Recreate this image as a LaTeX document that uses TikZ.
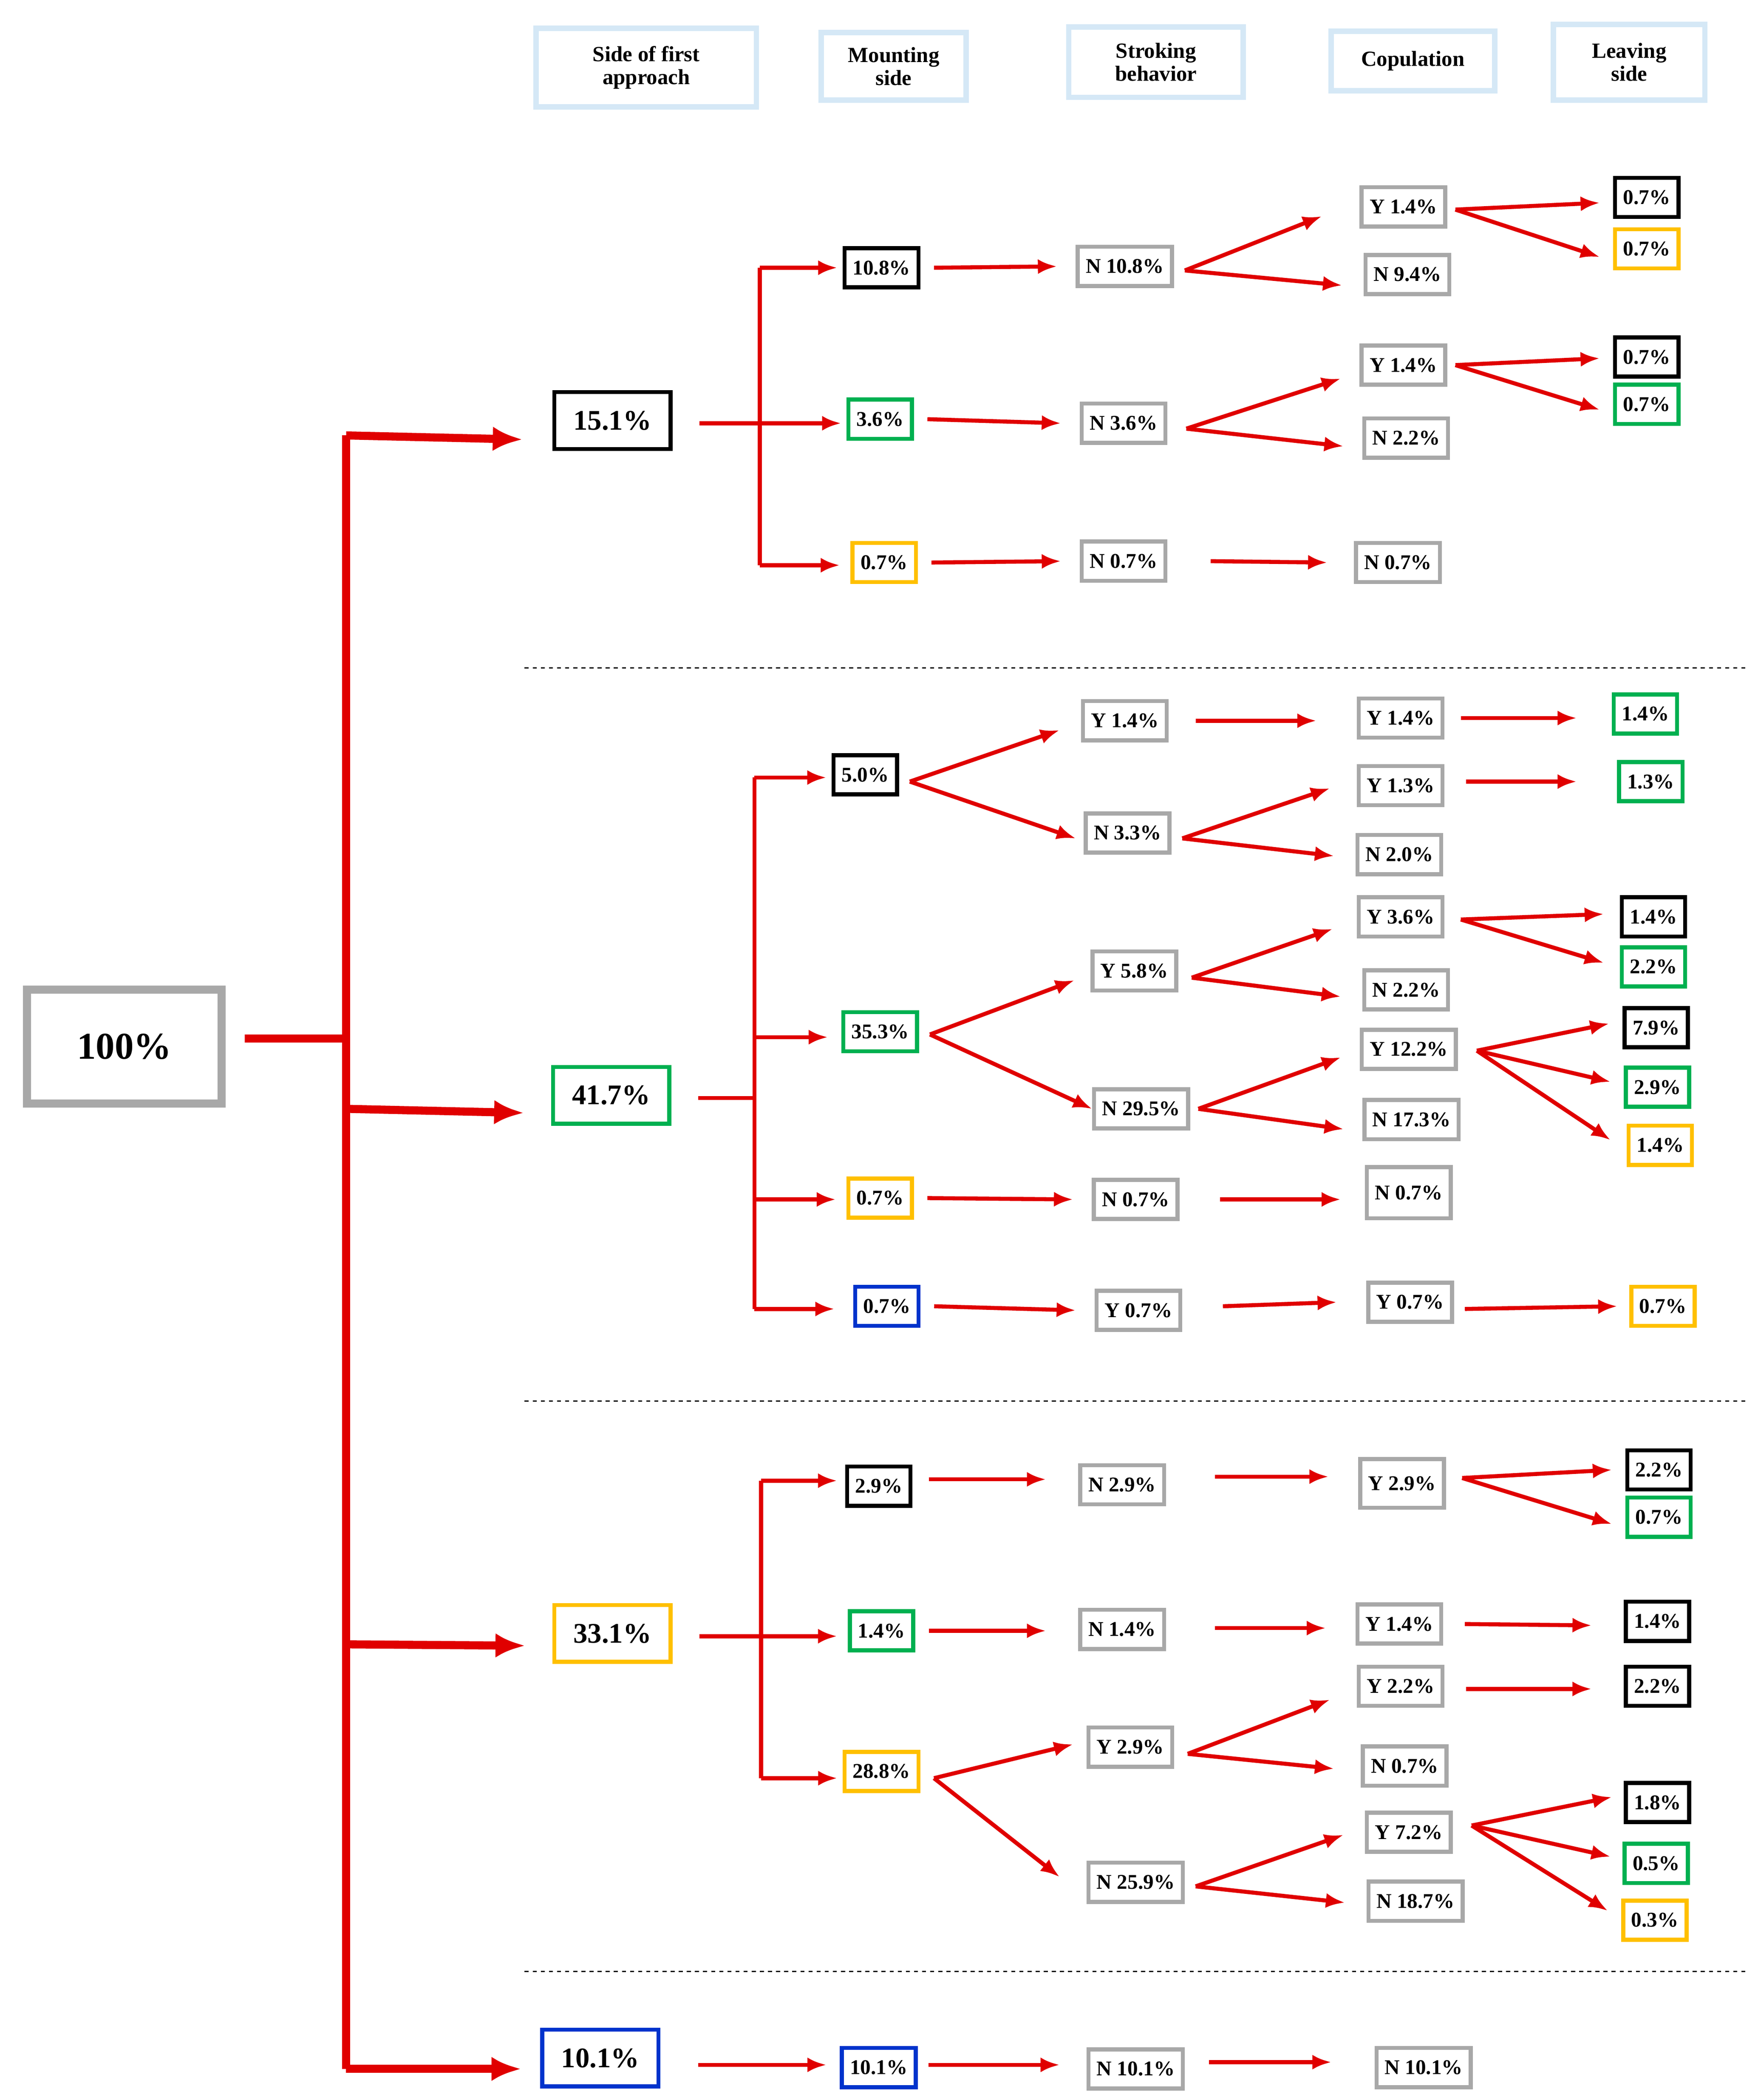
\documentclass[tikz,border=0pt]{standalone}
\usepackage{fontspec}
\setmainfont{Liberation Serif}
\usetikzlibrary{arrows.meta}
\definecolor{rd}{HTML}{E00000}
\definecolor{gr}{HTML}{A8A8A8}
\definecolor{gn}{HTML}{00B050}
\definecolor{yl}{HTML}{FFC000}
\definecolor{bl}{HTML}{0033CC}
\definecolor{lb}{HTML}{D5E8F6}
\tikzset{
 ys/.style={yshift={-(#1)}},
 bx/.style={draw, line width=3pt, fill=white, font=\fontsize{15.5}{17}\selectfont\bfseries, inner xsep=6pt, inner ysep=5pt, minimum height=29pt},
 gB/.style={bx, draw=gr}, kB/.style={bx, draw=black}, nB/.style={bx, draw=gn}, yB/.style={bx, draw=yl}, bB/.style={bx, draw=bl},
 big/.style={font=\fontsize{21}{23}\selectfont\bfseries, minimum width=86pt, minimum height=42pt},
 hd/.style={draw=lb, line width=4pt, font=\fontsize{16}{17}\selectfont\bfseries, align=center, inner xsep=9pt, inner ysep=6pt},
 arr/.style={draw=rd, line width=3pt, -{Latex[length=14pt,width=11pt]}},
 ln/.style={draw=rd, line width=3pt},
 tarr/.style={draw=rd, line width=6pt, -{Latex[length=22pt,width=18pt]}},
 dsh/.style={dashed, line width=1pt}
}
\newcommand\cn[2]{\draw[arr] ([xshift=10pt]#1.east) -- ([xshift=-14pt]#2.west);}
\begin{document}
\begin{tikzpicture}[x=1pt,y=-1pt]
\useasboundingbox (0,0) rectangle (1300,1553);
% headers
\node[hd, minimum width=163pt, minimum height=58pt] (h1) at (478,50) {Side of first\\approach};
\node[hd, minimum width=107pt, minimum height=50pt] (h2) at (661,49) {Mounting\\side};
\node[hd, minimum width=129pt, minimum height=52pt] (h3) at (855,46) {Stroking\\behavior};
\node[hd, minimum width=121pt, minimum height=44pt] (h4) at (1045,45) {Copulation};
\node[hd, minimum width=112pt, minimum height=56pt] (h5) at (1205,46) {Leaving\\side};
% dashed separators
\coordinate (d1a) at (388,494); \coordinate (d1b) at (1293,494);
\coordinate (d2a) at (388,1036); \coordinate (d2b) at (1293,1036);
\coordinate (d3a) at (388,1458); \coordinate (d3b) at (1293,1458);
\draw[dsh] (d1a) -- (d1b); \draw[dsh] (d2a) -- (d2b); \draw[dsh] (d3a) -- (d3b);
% root
\node[draw=gr, line width=6pt, minimum width=144pt, minimum height=84pt, font=\fontsize{28}{30}\selectfont\bfseries] (root) at (92,774) {100\%};
\node[kB, big] (A) at (453,311) {15.1\%};
\node[nB, big] (B) at (452,810) {41.7\%};
\node[yB, big] (C) at (453,1208) {33.1\%};
\node[bB, big] (D) at (444,1522) {10.1\%};
\coordinate (tm) at (256,768);
\coordinate (t1) at (256,322); \coordinate (t4) at (256,1530);
\coordinate (t2) at (256,820); \coordinate (t3) at (256,1216);
\draw[draw=rd, line width=6pt] ([xshift=14pt,ys=-6pt]root.east) -- (tm);
\draw[draw=rd, line width=6pt] (t1) -- (t4);
\draw[tarr] (t1) -- ([xshift=-22pt,ys=14pt]A.west);
\draw[tarr] (t2) -- ([xshift=-20pt,ys=13pt]B.west);
\draw[tarr] (t3) -- ([xshift=-20pt,ys=9pt]C.west);
\draw[tarr] (t4) -- ([xshift=-14pt,ys=8pt]D.west);
% ===== group 1
\node[kB] (a1) at (652,198) {10.8\%};
\node[nB] (a2) at (651,310) {3.6\%};
\node[yB] (a3) at (654,416) {0.7\%};
\coordinate (va) at (562,313); \coordinate (va1) at (562,198); \coordinate (va3) at (562,418);
\draw[ln] ([xshift=20pt,ys=2pt]A.east) -- (va);
\draw[ln] (va1) -- (va3);
\draw[arr] (va1) -- ([xshift=-4pt]a1.west);
\draw[arr] (va) -- ([xshift=-4pt,ys=3pt]a2.west);
\draw[arr] (va3) -- ([xshift=-8pt,ys=2pt]a3.west);
\node[gB] (s1) at (832,197) {N 10.8\%};
\node[gB] (s2) at (831,313) {N 3.6\%};
\node[gB] (s3) at (831,415) {N 0.7\%};
\cn{a1}{s1} \cn{a2}{s2} \cn{a3}{s3}
\node[gB] (c1) at (1038,153) {Y 1.4\%};
\node[gB] (c2) at (1041,203) {N 9.4\%};
\node[gB] (c3) at (1038,270) {Y 1.4\%};
\node[gB] (c4) at (1040,324) {N 2.2\%};
\node[gB] (c5) at (1034,416) {N 0.7\%};
\draw[arr] ([xshift=8pt,ys=3pt]s1.east) -- ([xshift=-28pt,ys=7pt]c1.west);
\draw[arr] ([xshift=8pt,ys=3pt]s1.east) -- ([xshift=-16pt,ys=8pt]c2.west);
\draw[arr] ([xshift=14pt,ys=4pt]s2.east) -- ([xshift=-14pt,ys=10pt]c3.west);
\draw[arr] ([xshift=14pt,ys=4pt]s2.east) -- ([xshift=-14pt,ys=6pt]c4.west);
\draw[arr] ([xshift=32pt]s3.east) -- ([xshift=-20pt]c5.west);
\node[kB] (l1) at (1218,146) {0.7\%};
\node[yB] (l2) at (1218,184) {0.7\%};
\node[kB] (l3) at (1218,264) {0.7\%};
\node[nB] (l4) at (1218,299) {0.7\%};
\draw[arr] ([xshift=6pt,ys=2pt]c1.east) -- ([xshift=-10pt,ys=4pt]l1.west);
\draw[arr] ([xshift=6pt,ys=2pt]c1.east) -- ([xshift=-10pt,ys=6pt]l2.west);
\draw[arr] ([xshift=6pt]c3.east) -- ([xshift=-10pt,ys=1pt]l3.west);
\draw[arr] ([xshift=6pt]c3.east) -- ([xshift=-10pt,ys=4pt]l4.west);
% ===== group 2
\node[kB] (b1) at (640,573) {5.0\%};
\node[nB] (b2) at (651,763) {35.3\%};
\node[yB] (b3) at (651,886) {0.7\%};
\node[bB] (b4) at (656,966) {0.7\%};
\coordinate (vb) at (558,812); \coordinate (vb1) at (558,575); \coordinate (vb2) at (558,767);
\coordinate (vb3) at (558,887); \coordinate (vb4) at (558,968);
\draw[ln] ([xshift=20pt,ys=2pt]B.east) -- (vb);
\draw[ln] (vb1) -- (vb4);
\draw[arr] (vb1) -- ([xshift=-4pt,ys=2pt]b1.west);
\draw[arr] (vb2) -- ([xshift=-10pt,ys=4pt]b2.west);
\draw[arr] (vb3) -- ([xshift=-8pt,ys=1pt]b3.west);
\draw[arr] (vb4) -- ([xshift=-14pt,ys=2pt]b4.west);
\node[gB] (p1) at (832,533) {Y 1.4\%};
\node[gB] (p2) at (834,616) {N 3.3\%};
\node[gB] (p3) at (839,718) {Y 5.8\%};
\node[gB] (p4) at (844,820) {N 29.5\%};
\node[gB] (p5) at (840,887) {N 0.7\%};
\node[gB] (p6) at (842,969) {Y 0.7\%};
\draw[arr] ([xshift=8pt,ys=5pt]b1.east) -- ([xshift=-16pt,ys=7pt]p1.west);
\draw[arr] ([xshift=8pt,ys=5pt]b1.east) -- ([xshift=-6pt,ys=4pt]p2.west);
\draw[arr] ([xshift=8pt,ys=2pt]b2.east) -- ([xshift=-12pt,ys=7pt]p3.west);
\draw[arr] ([xshift=8pt,ys=2pt]b2.east) -- ([xshift=0pt]p4.west);
\cn{b3}{p5} \cn{b4}{p6}
\node[gB] (q1) at (1036,531) {Y 1.4\%};
\node[gB] (q2) at (1036,581) {Y 1.3\%};
\node[gB] (q3) at (1035,632) {N 2.0\%};
\node[gB] (q4) at (1036,678) {Y 3.6\%};
\node[gB] (q5) at (1040,732) {N 2.2\%};
\node[gB] (q6) at (1042,776) {Y 12.2\%};
\node[gB] (q7) at (1044,828) {N 17.3\%};
\node[gB, minimum height=38pt] (q8) at (1042,882) {N 0.7\%};
\node[gB] (q9) at (1043,963) {Y 0.7\%};
\draw[arr] ([xshift=20pt]p1.east) -- ([xshift=-30pt,ys=2pt]q1.west);
\draw[arr] ([xshift=8pt,ys=4pt]p2.east) -- ([xshift=-20pt,ys=2pt]q2.west);
\draw[arr] ([xshift=8pt,ys=4pt]p2.east) -- ([xshift=-16pt,ys=1pt]q3.west);
\draw[arr] ([xshift=10pt,ys=5pt]p3.east) -- ([xshift=-18pt,ys=9pt]q4.west);
\draw[arr] ([xshift=10pt,ys=5pt]p3.east) -- ([xshift=-16pt,ys=5pt]q5.west);
\draw[arr] ([xshift=6pt]p4.east) -- ([xshift=-14pt,ys=6pt]q6.west);
\draw[arr] ([xshift=6pt]p4.east) -- ([xshift=-14pt,ys=7pt]q7.west);
\draw[arr] ([xshift=30pt]p5.east) -- ([xshift=-18pt,ys=5pt]q8.west);
\draw[arr] ([xshift=30pt,ys=-3pt]p6.east) -- ([xshift=-22pt]q9.west);
\node[nB] (r1) at (1217,528) {1.4\%};
\node[nB] (r2) at (1221,578) {1.3\%};
\node[kB] (r3) at (1223,678) {1.4\%};
\node[nB] (r4) at (1223,715) {2.2\%};
\node[kB] (r5) at (1225,760) {7.9\%};
\node[nB] (r6) at (1226,804) {2.9\%};
\node[yB] (r7) at (1228,847) {1.4\%};
\node[yB] (r8) at (1230,966) {0.7\%};
\draw[arr] ([xshift=12pt]q1.east) -- ([xshift=-26pt,ys=3pt]r1.west);
\draw[arr] ([xshift=16pt,ys=-3pt]q2.east) -- ([xshift=-30pt]r2.west);
\draw[arr] ([xshift=12pt,ys=2pt]q4.east) -- ([xshift=-12pt,ys=-2pt]r3.west);
\draw[arr] ([xshift=12pt,ys=2pt]q4.east) -- ([xshift=-12pt,ys=-3pt]r4.west);
\draw[arr] ([xshift=14pt,ys=1pt]q6.east) -- ([xshift=-10pt,ys=-3pt]r5.west);
\draw[arr] ([xshift=14pt,ys=1pt]q6.east) -- ([xshift=-10pt,ys=-4pt]r6.west);
\draw[arr] ([xshift=14pt,ys=1pt]q6.east) -- ([xshift=-12pt,ys=-4pt]r7.west);
\draw[arr] ([xshift=8pt,ys=5pt]q9.east) -- ([xshift=-9pt]r8.west);
% ===== group 3
\node[kB] (e1) at (650,1099) {2.9\%};
\node[nB] (e2) at (652,1206) {1.4\%};
\node[yB] (e3) at (652,1310) {28.8\%};
\coordinate (vc) at (563,1210); \coordinate (vc1) at (563,1095); \coordinate (vc3) at (563,1315);
\draw[ln] ([xshift=20pt,ys=2pt]C.east) -- (vc);
\draw[ln] (vc1) -- (vc3);
\draw[arr] (vc1) -- ([xshift=-6pt,ys=-4pt]e1.west);
\draw[arr] (vc) -- ([xshift=-8pt,ys=4pt]e2.west);
\draw[arr] (vc3) -- ([xshift=-4pt,ys=5pt]e3.west);
\node[gB] (f1) at (830,1098) {N 2.9\%};
\node[gB] (f2) at (830,1205) {N 1.4\%};
\node[gB] (f3) at (836,1292) {Y 2.9\%};
\node[gB] (f4) at (840,1392) {N 25.9\%};
\draw[arr] ([xshift=12pt,ys=-5pt]e1.east) -- ([xshift=-24pt,ys=-4pt]f1.west);
\draw[arr] ([xshift=10pt]e2.east) -- ([xshift=-24pt,ys=1pt]f2.west);
\draw[arr] ([xshift=10pt,ys=5pt]e3.east) -- ([xshift=-10pt,ys=-2pt]f3.west);
\draw[arr] ([xshift=10pt,ys=5pt]e3.east) -- ([xshift=-20pt,ys=-4pt]f4.west);
\node[gB, minimum height=36pt] (u1) at (1037,1097) {Y 2.9\%};
\node[gB] (u2) at (1035,1201) {Y 1.4\%};
\node[gB] (u3) at (1036,1247) {Y 2.2\%};
\node[gB] (u4) at (1039,1306) {N 0.7\%};
\node[gB] (u5) at (1042,1355) {Y 7.2\%};
\node[gB] (u6) at (1047,1406) {N 18.7\%};
\draw[arr] ([xshift=36pt,ys=-6pt]f1.east) -- ([xshift=-22pt,ys=-5pt]u1.west);
\draw[arr] ([xshift=36pt,ys=-1pt]f2.east) -- ([xshift=-22pt,ys=3pt]u2.west);
\draw[arr] ([xshift=10pt,ys=5pt]f3.east) -- ([xshift=-20pt,ys=10pt]u3.west);
\draw[arr] ([xshift=10pt,ys=5pt]f3.east) -- ([xshift=-20pt,ys=2pt]u4.west);
\draw[arr] ([xshift=8pt,ys=3pt]f4.east) -- ([xshift=-16pt,ys=2pt]u5.west);
\draw[arr] ([xshift=8pt,ys=3pt]f4.east) -- ([xshift=-16pt,ys=1pt]u6.west);
\node[kB] (w1) at (1227,1087) {2.2\%};
\node[nB] (w2) at (1227,1122) {0.7\%};
\node[kB] (w3) at (1226,1199) {1.4\%};
\node[kB] (w4) at (1226,1247) {2.2\%};
\node[kB] (w5) at (1226,1333) {1.8\%};
\node[nB] (w6) at (1225,1378) {0.5\%};
\node[yB] (w7) at (1224,1420) {0.3\%};
\draw[arr] ([xshift=12pt,ys=-4pt]u1.east) -- ([xshift=-10pt]w1.west);
\draw[arr] ([xshift=12pt,ys=-4pt]u1.east) -- ([xshift=-10pt,ys=5pt]w2.west);
\draw[arr] ([xshift=16pt]u2.east) -- ([xshift=-24pt,ys=3pt]w3.west);
\draw[arr] ([xshift=16pt,ys=2pt]u3.east) -- ([xshift=-24pt,ys=2pt]w4.west);
\draw[arr] ([xshift=14pt,ys=-5pt]u5.east) -- ([xshift=-9pt,ys=-4pt]w5.west);
\draw[arr] ([xshift=14pt,ys=-5pt]u5.east) -- ([xshift=-9pt,ys=-5pt]w6.west);
\draw[arr] ([xshift=14pt,ys=-5pt]u5.east) -- ([xshift=-10pt,ys=-7pt]w7.west);
% ===== group 4
\node[bB] (x1) at (650,1529) {10.1\%};
\node[gB] (x2) at (840,1530) {N 10.1\%};
\node[gB] (x3) at (1053,1529) {N 10.1\%};
\draw[arr] ([xshift=28pt,ys=5pt]D.east) -- ([xshift=-10pt,ys=-2pt]x1.west);
\draw[arr] ([xshift=8pt,ys=-2pt]x1.east) -- ([xshift=-20pt,ys=-3pt]x2.west);
\draw[arr] ([xshift=18pt,ys=-5pt]x2.east) -- ([xshift=-32pt,ys=-4pt]x3.west);
\end{tikzpicture}
\end{document}
